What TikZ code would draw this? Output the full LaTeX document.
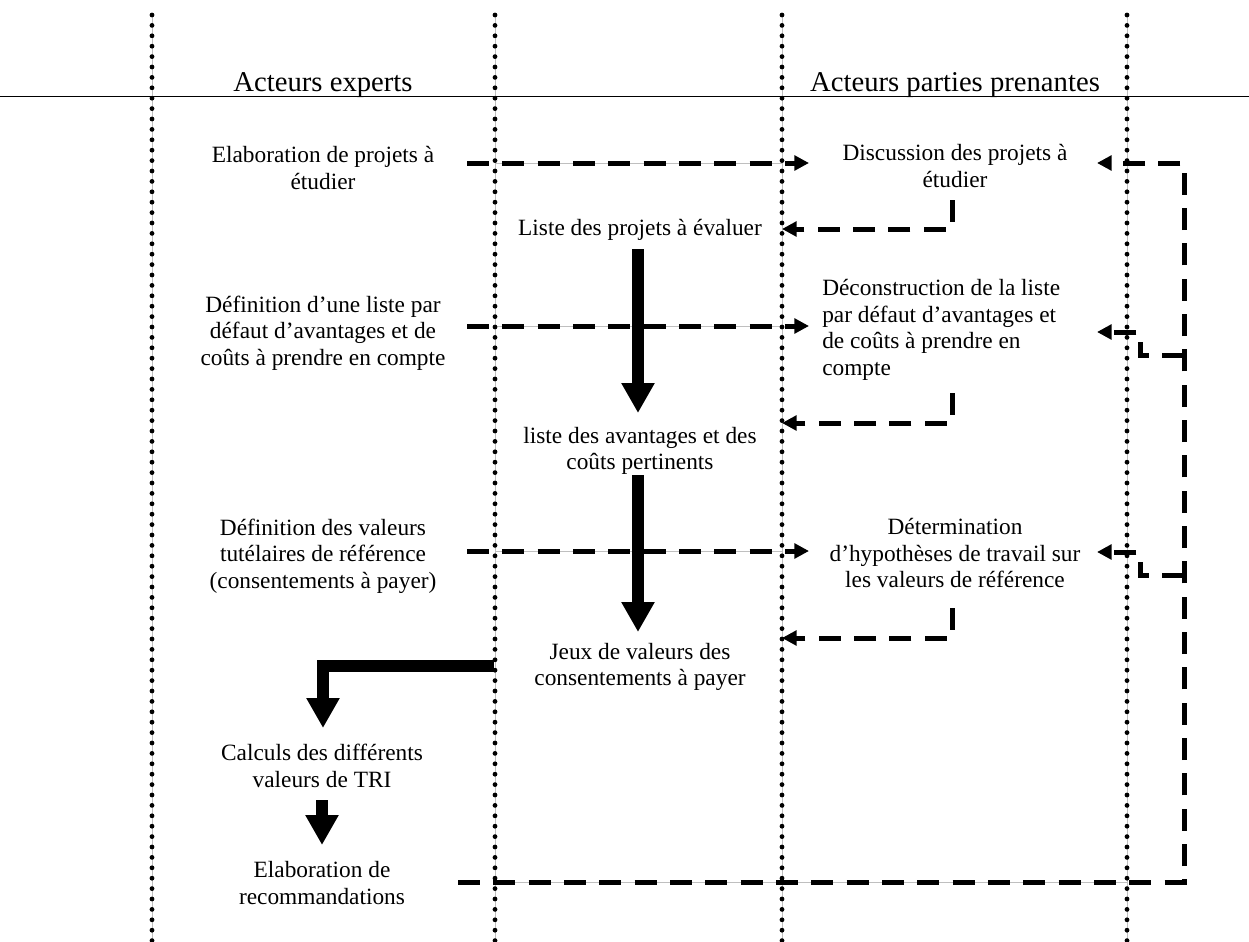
\documentclass[tikz,border=0pt]{standalone}
\usepackage{fontspec}
\setmainfont{Liberation Serif}
\usetikzlibrary{arrows.meta}
\begin{document}
\begin{tikzpicture}[x=0.75pt,y=-0.75pt,
  txt/.style={font=\fontsize{17.5}{19.9}\selectfont, align=center, inner sep=0pt},
  txtl/.style={font=\fontsize{17.5}{19.9}\selectfont, align=left, inner sep=0pt, anchor=west},
  hdr/.style={font=\fontsize{21.5}{24}\selectfont, inner sep=0pt},
  lane/.style={line width=3.6pt, dash pattern=on 0pt off 7.8pt, line cap=round},
  laneg/.style={line width=0.75pt, black!25},
  dflow/.style={line width=3.75pt, dash pattern=on 16.5pt off 10pt, -{Triangle[length=11pt,width=11pt]}},
  sflow/.style={line width=8.5pt, -{Triangle[length=22.5pt,width=23.5pt]}},
]
\useasboundingbox (0,0) rectangle (1249,942);

% lane borders
\foreach \x/\n in {152/l1,495/l2,782/l3,1127/l4}{
  \coordinate (\n t) at (\x,15);
  \coordinate (\n b) at (\x,942);
  \draw[laneg] (\n t) -- (\n b);
}
\coordinate (g1a) at (495,163); \coordinate (g1b) at (782,163);
\coordinate (g2a) at (495,326); \coordinate (g2b) at (782,326);
\coordinate (g3a) at (495,551); \coordinate (g3b) at (782,551);
\coordinate (g4a) at (495,882); \coordinate (g4b) at (1127,882);
\draw[laneg] (g1a) -- (g1b);
\draw[laneg] (g2a) -- (g2b);
\draw[laneg] (g3a) -- (g3b);
\draw[laneg] (g4a) -- (g4b);
\foreach \n in {l1,l2,l3,l4}{
  \draw[lane] (\n t) -- (\n b);
}

% header line
\coordinate (hl) at (0,97); \coordinate (hr) at (1249,97);
\draw[line width=0.75pt] (hl) -- (hr);

\node[hdr] (h1) at (323,85) {Acteurs experts};
\node[hdr] (h2) at (955,85) {Acteurs parties prenantes};

% left column
\node[txt] (e1) at (323,168) {Elaboration de projets à\\étudier};
\node[txt] (e2) at (323,333) {Définition d’une liste par\\défaut d’avantages et de\\coûts à prendre en compte};
\node[txt] (e3) at (323,556) {Définition des valeurs\\tutélaires de référence\\(consentements à payer)};
\node[txt] (e4) at (322,766) {Calculs des différents\\valeurs de TRI};
\node[txt] (e5) at (322,883) {Elaboration de\\recommandations};

% middle column
\node[txt] (m1) at (640,230) {Liste des projets à évaluer};
\node[txt] (m2) at (640,451) {liste des avantages et des\\coûts pertinents};
\node[txt] (m3) at (640,667) {Jeux de valeurs des\\consentements à payer};

% right column
\node[txt] (p1) at (955,166) {Discussion des projets à\\étudier};
\node[txtl] (p2) at (822,330) {Déconstruction de la liste\\par défaut d’avantages et\\de coûts à prendre en\\compte};
\node[txt] (p3) at (955,553) {Détermination\\d’hypothèses de travail sur\\les valeurs de référence};

% dashed flows expert -> stakeholders
\coordinate (a1s) at (467,163); \coordinate (a1e) at (809,163);
\coordinate (a2s) at (467,326); \coordinate (a2e) at (809,326);
\coordinate (a3s) at (467,551); \coordinate (a3e) at (809,551);
\draw[dflow] (a1s) -- (a1e);
\draw[dflow] (a2s) -- (a2e);
\draw[dflow] (a3s) -- (a3e);

% returns
\coordinate (r1s) at (952,200); \coordinate (r1c) at (952,229); \coordinate (r1e) at (782,229);
\coordinate (r2s) at (952,393); \coordinate (r2c) at (952,423); \coordinate (r2e) at (782,423);
\coordinate (r3s) at (952,608); \coordinate (r3c) at (952,638); \coordinate (r3e) at (782,638);
\draw[dflow] (r1s) -- (r1c) -- (r1e);
\draw[dflow] (r2s) -- (r2c) -- (r2e);
\draw[dflow] (r3s) -- (r3c) -- (r3e);

% feedback loop
\coordinate (f0) at (458,882); \coordinate (f1) at (1184,882);
\coordinate (f2) at (1184,163); \coordinate (f3) at (1097,163);
\draw[dflow] (f0) -- (f1) -- (f2) -- (f3);
\coordinate (b1s) at (1184,355); \coordinate (b1c) at (1140,355);
\coordinate (b1d) at (1140,332); \coordinate (b1e) at (1097,332);
\draw[dflow] (b1s) -- (b1c) -- (b1d) -- (b1e);
\coordinate (b2s) at (1184,575); \coordinate (b2c) at (1140,575);
\coordinate (b2d) at (1140,552); \coordinate (b2e) at (1097,552);
\draw[dflow] (b2s) -- (b2c) -- (b2d) -- (b2e);

% solid flows
\coordinate (t1s) at (638,249); \coordinate (t1e) at (638,413);
\coordinate (t2s) at (638,475); \coordinate (t2e) at (638,632);
\coordinate (t3s) at (494,666); \coordinate (t3c) at (323,666); \coordinate (t3e) at (323,728);
\coordinate (t4s) at (322,800); \coordinate (t4e) at (322,845);
\draw[sflow] (t1s) -- (t1e);
\draw[sflow] (t2s) -- (t2e);
\draw[sflow] (t3s) -- (t3c) -- (t3e);
\draw[sflow] (t4s) -- (t4e);
\end{tikzpicture}
\end{document}
